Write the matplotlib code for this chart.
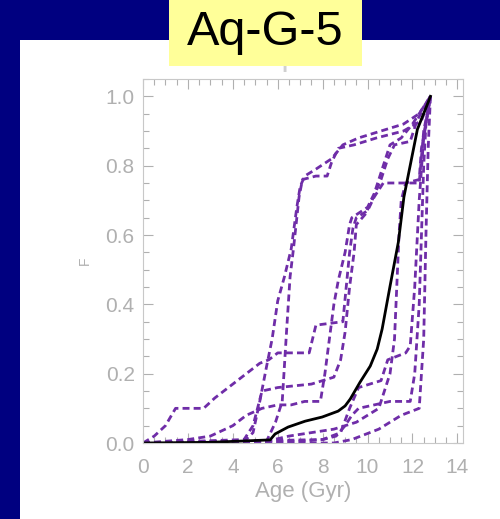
import matplotlib
matplotlib.use("Agg")
import matplotlib.pyplot as plt
import numpy as np
from matplotlib.patches import Rectangle
from matplotlib.ticker import MultipleLocator

plt.rcParams['font.family'] = ['Liberation Sans', 'DejaVu Sans']

title = 'Aq-G-5'
xlabel = 'Age (Gyr)'
ylabel = 'F'

# black: total cumulative fraction
age_total = [0, 3.0, 5.66, 5.88, 6.46, 7.22, 7.98, 8.69, 9.0, 9.23, 9.67, 10.12,
             10.43, 10.65, 11.0, 11.37, 11.62, 12.22, 12.7, 12.8]
f_total = [0.0, 0.002, 0.009, 0.026, 0.046, 0.063, 0.075, 0.092, 0.107, 0.127, 0.176,
           0.222, 0.271, 0.329, 0.452, 0.579, 0.71, 0.905, 0.983, 1.0]

# dashed: individual cumulative fractions
age_1 = [0, 0.5, 1.0, 1.45, 2.7, 3.2, 4.0, 4.6, 5.2, 5.6, 6.0, 7.4, 7.7, 8.9, 9.05,
         9.2, 9.35, 9.5, 10.0, 10.3, 10.7, 12.3, 12.5, 12.8]
f_1 = [0, 0.02, 0.05, 0.10, 0.10, 0.13, 0.17, 0.20, 0.23, 0.24, 0.26, 0.26, 0.34, 0.35,
       0.45, 0.55, 0.62, 0.65, 0.67, 0.71, 0.75, 0.75, 0.9, 1.0]
age_2 = [0, 4.5, 4.9, 5.2, 5.5, 5.75, 6.0, 6.3, 6.6, 6.85, 7.0, 7.2, 7.7, 8.4, 8.9,
         9.6, 10.6, 11.6, 12.3, 12.8]
f_2 = [0, 0.005, 0.03, 0.12, 0.22, 0.30, 0.41, 0.48, 0.56, 0.68, 0.74, 0.77, 0.79,
       0.82, 0.86, 0.88, 0.90, 0.92, 0.95, 1.0]
age_3 = [0, 5.5, 5.9, 6.2, 6.4, 6.55, 6.7, 6.95, 7.1, 7.7, 8.2, 8.4, 8.7, 9.4, 10.4,
         11.6, 12.4, 12.8]
f_3 = [0, 0.005, 0.06, 0.12, 0.33, 0.48, 0.56, 0.71, 0.76, 0.77, 0.77, 0.81, 0.85,
       0.86, 0.88, 0.90, 0.93, 1.0]
age_4 = [0, 4.5, 4.9, 5.1, 5.3, 6.0, 7.5, 8.5, 8.8, 9.0, 9.2, 9.4, 9.5, 9.9, 10.2,
         10.6, 10.9, 11.2, 11.9, 12.2, 12.8]
f_4 = [0, 0.01, 0.05, 0.10, 0.15, 0.16, 0.17, 0.19, 0.24, 0.32, 0.45, 0.55, 0.63,
       0.66, 0.70, 0.76, 0.82, 0.86, 0.87, 0.93, 1.0]
age_5 = [0, 2.0, 3.0, 4.0, 4.6, 5.3, 6.0, 6.6, 7.2, 7.9, 8.1, 8.3, 8.5, 8.7, 9.0, 9.2,
         9.3, 10.0, 10.3, 10.6, 11.0, 11.5, 12.0, 12.8]
f_5 = [0, 0.01, 0.02, 0.05, 0.08, 0.10, 0.11, 0.11, 0.12, 0.12, 0.20, 0.30, 0.40,
       0.47, 0.55, 0.63, 0.65, 0.68, 0.72, 0.78, 0.86, 0.88, 0.92, 1.0]
age_6 = [0, 4.0, 8.0, 8.6, 9.0, 9.3, 9.6, 10.3, 11.0, 11.9, 12.1, 12.3, 12.4, 12.5,
         12.6, 12.8]
f_6 = [0, 0.005, 0.01, 0.02, 0.05, 0.08, 0.10, 0.11, 0.12, 0.12, 0.2, 0.4, 0.6, 0.8,
       0.92, 1.0]
age_7 = [0, 7.0, 8.0, 8.8, 9.2, 9.6, 10.6, 10.9, 11.7, 11.9, 12.1, 12.3, 12.5, 12.8]
f_7 = [0, 0.005, 0.01, 0.03, 0.10, 0.16, 0.18, 0.24, 0.26, 0.28, 0.45, 0.70, 0.88, 1.0]
age_8 = [0, 5.5, 6.5, 7.5, 8.5, 9.5, 10.5, 11.0, 11.2, 11.3, 11.4, 11.5, 11.7, 12.3,
         12.4, 12.8]
f_8 = [0, 0.005, 0.02, 0.03, 0.04, 0.06, 0.10, 0.20, 0.30, 0.45, 0.60, 0.70, 0.75,
       0.76, 0.85, 1.0]
age_9 = [0, 8.5, 9.3, 10.5, 11.5, 12.3, 12.5, 12.6, 12.7, 12.8]
f_9 = [0, 0.0, 0.01, 0.04, 0.08, 0.10, 0.30, 0.60, 0.85, 1.0]

runs = [(age_1, f_1), (age_2, f_2), (age_3, f_3), (age_4, f_4), (age_5, f_5),
        (age_6, f_6), (age_7, f_7), (age_8, f_8), (age_9, f_9)]

purple = '#6f2da8'
grey = '#b0b0b0'

fig = plt.figure(figsize=(5.0, 5.19), dpi=100)
fig.patch.set_facecolor('#000080')

# white slide panel, behind the axes
fig.add_artist(Rectangle((0.04, 0.0), 0.96, 0.923, transform=fig.transFigure,
                         facecolor='white', edgecolor='none', zorder=-10))

ax = fig.add_axes([0.286, 0.1464, 0.64, 0.7014])
ax.set_facecolor('none')
ax.set_zorder(1)

for a, f in runs:
    ax.plot(a, f, color=purple, lw=2, linestyle=(0, (2.5, 1.5)))
ax.plot(age_total, f_total, color='black', lw=2)

ax.set_xlim(0, 14.25)
ax.set_ylim(0, 1.05)
ax.xaxis.set_major_locator(MultipleLocator(2))
ax.xaxis.set_minor_locator(MultipleLocator(0.5))
ax.yaxis.set_major_locator(MultipleLocator(0.2))
ax.yaxis.set_minor_locator(MultipleLocator(0.05))
ax.yaxis.set_major_formatter(plt.FormatStrFormatter('%.1f'))
ax.tick_params(which='both', direction='in', top=True, right=True, color=grey,
               labelcolor=grey, labelsize=15, width=0.8)
ax.tick_params(which='major', length=7)
ax.tick_params(which='minor', length=4)
ax.tick_params(axis='x', which='major', pad=11)
ax.tick_params(axis='y', which='major', pad=6)
for s in ax.spines.values():
    s.set_color('#c8c8c8')
    s.set_linewidth(0.8)

ax.set_xlabel(xlabel, color=grey, fontsize=16, labelpad=3)
ax.set_ylabel(ylabel, color=grey, fontsize=10, labelpad=10)
# original plot title, mostly hidden under the slide's yellow box
ax.set_title(title, color='#d0d0d0', fontsize=24, pad=10)

# yellow title box on top of everything
fig.add_artist(Rectangle((0.338, 0.873), 0.386, 0.127, transform=fig.transFigure,
                         facecolor='#ffff99', edgecolor='none', zorder=5))
fig.text(0.531, 0.937, title, ha='center', va='center', fontsize=35, color='black',
         zorder=6)

fig.savefig('out.png', dpi=100, facecolor=fig.get_facecolor())
